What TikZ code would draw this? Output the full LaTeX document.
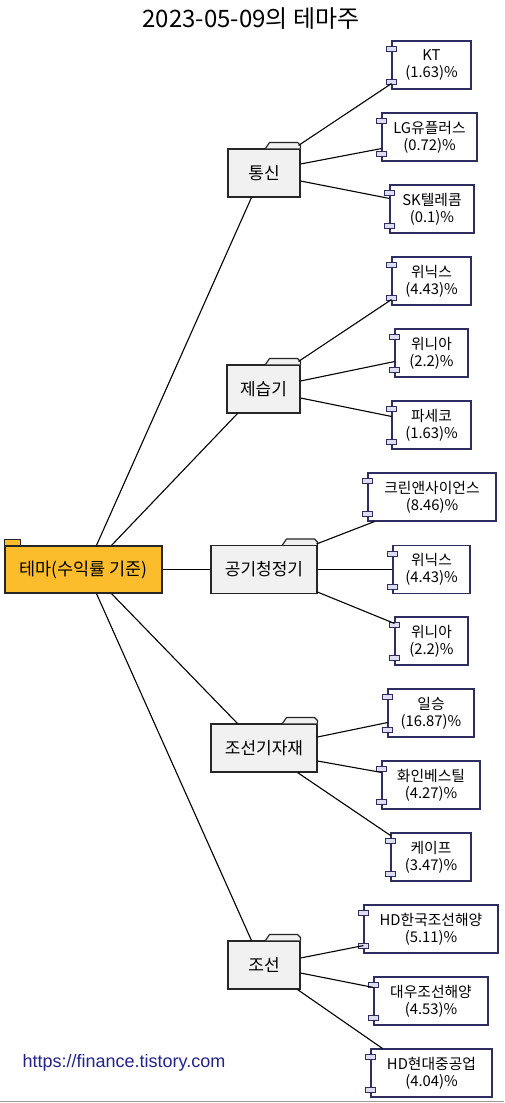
\documentclass[tikz,border=0pt]{standalone}
\usepackage{fontspec}
\setmainfont{Noto Sans CJK KR}
\newfontfamily\urlfont{Liberation Sans}
\usetikzlibrary{calc}
\definecolor{leafline}{RGB}{45,45,95}
\definecolor{portfill}{RGB}{222,222,240}
\definecolor{folderfill}{RGB}{241,241,241}
\definecolor{rootfill}{RGB}{252,189,44}
\definecolor{urlcol}{RGB}{35,35,140}
\newcommand\leafports[1]{%
  \node[port] at ($(#1.north west)+(0,8.5)$) {};
  \node[port] at ($(#1.south west)+(0,-7.5)$) {};}
\newcommand\foldertab[1]{%
  \filldraw[tabline] ($(#1.north east)+(-35,0)$) -- ++(4,-6) -- ($(#1.north east)+(-3,-6)$) -- ($(#1.north east)+(0,-3)$) -- (#1.north east);}
\begin{document}
\begin{tikzpicture}[x=1pt,y=-1pt,
  leaf/.style={rectangle,draw=leafline,fill=white,line width=1.1pt,minimum height=48pt,inner sep=0pt,align=center,font=\fontsize{14.8}{17}\selectfont},
  port/.style={rectangle,draw=leafline,fill=portfill,line width=0.9pt,minimum width=10pt,minimum height=5pt,inner sep=0pt},
  folder/.style={rectangle,draw=black!85,fill=folderfill,line width=1.1pt,minimum height=48pt,inner sep=0pt,font=\fontsize{17}{20}\selectfont},
  tabline/.style={draw=black!85,fill=folderfill,line width=1.2pt,line join=round},
  rootbox/.style={rectangle,draw=black!85,fill=rootfill,line width=1.1pt,minimum width=157pt,minimum height=47pt,inner sep=0pt,font=\fontsize{17.5}{20}\selectfont},
  link/.style={draw=black,line width=1.1pt}]
\useasboundingbox (0,0) rectangle (504,1103);

\node[font=\fontsize{24}{28}\selectfont] (title) at (251,19) {2023-05-09의 테마주};

% root
\node[rootbox] (root) at (83.5,569.5) {테마(수익률 기준)};
\filldraw[draw=black!85,fill=rootfill,line width=1.1pt] (root.north west) rectangle ($(root.north west)+(16,-6)$);

% folders
\node[folder,minimum width=72pt] (tong) at (264,173) {통신};
\node[folder,minimum width=73pt] (jsg) at (263.5,389) {제습기};
\node[folder,minimum width=106pt] (gong) at (264,569.5) {공기청정기};
\node[folder,minimum width=106pt] (jsk) at (264,748) {조선기자재};
\node[folder,minimum width=72pt] (js) at (264,965) {조선};
\foldertab{tong}\foldertab{jsg}\foldertab{gong}\foldertab{jsk}\foldertab{js}

% leaves
\node[leaf,minimum width=79pt] (kt) at (431.5,65) {KT\\(1.63)\%};
\node[leaf,minimum width=95pt] (lg) at (429.5,137) {LG유플러스\\(0.72)\%};
\node[leaf,minimum width=84pt] (sk) at (432,209) {SK텔레콤\\(0.1)\%};
\node[leaf,minimum width=79pt] (wnx) at (431.5,281) {위닉스\\(4.43)\%};
\node[leaf,minimum width=73pt] (wna) at (431.5,353) {위니아\\(2.2)\%};
\node[leaf,minimum width=79pt] (psk) at (431.5,425) {파세코\\(1.63)\%};
\node[leaf,minimum width=128pt] (krin) at (432,497) {크린앤사이언스\\(8.46)\%};
\node[leaf,minimum width=77pt] (wnx2) at (431.5,569.5) {위닉스\\(4.43)\%};
\node[leaf,minimum width=73pt] (wna2) at (431.5,641) {위니아\\(2.2)\%};
\node[leaf,minimum width=86pt] (il) at (431,713) {일승\\(16.87)\%};
\node[leaf,minimum width=98pt] (hwa) at (431,785) {화인베스틸\\(4.27)\%};
\node[leaf,minimum width=80pt] (kape) at (431,857) {케이프\\(3.47)\%};
\node[leaf,minimum width=134pt] (hdk) at (431,929) {HD한국조선해양\\(5.11)\%};
\node[leaf,minimum width=114pt] (dw) at (431,1001) {대우조선해양\\(4.53)\%};
\node[leaf,minimum width=121pt] (hdh) at (431.5,1073) {HD현대중공업\\(4.04)\%};
\foreach \n in {kt,lg,sk,wnx,wna,psk,krin,wnx2,wna2,il,hwa,kape,hdk,dw,hdh}{\leafports{\n}}

% root links
\draw[link] ($(root.north west)+(92,0)$) -- ($(tong.south west)+(24,0)$);
\draw[link] ($(root.north west)+(107,0)$) -- ($(jsg.south west)+(11,0)$);
\draw[link] (root.east) -- (gong.west);
\draw[link] ($(root.south west)+(107,0)$) -- ($(jsk.north west)+(27,0)$);
\draw[link] ($(root.south west)+(92,0)$) -- ($(js.north west)+(24,0)$);

% 통신
\draw[link] ($(tong.north east)+(-2,-3)$) -- ($(kt.south west)+(0,-6)$);
\draw[link] ($(tong.east)+(0,-9)$) -- ($(lg.south west)+(0,-13)$);
\draw[link] ($(tong.east)+(0,8)$) -- ($(sk.north west)+(0,14)$);
% 제습기
\draw[link] ($(jsg.north east)+(-2,-3)$) -- ($(wnx.south west)+(0,-6)$);
\draw[link] ($(jsg.east)+(0,-8)$) -- ($(wna.south west)+(0,-16)$);
\draw[link] ($(jsg.east)+(0,9)$) -- ($(psk.north west)+(0,16)$);
% 공기청정기
\draw[link] ($(gong.north east)+(-1,-1)$) -- ($(krin.south west)+(7,0)$);
\draw[link] (gong.east) -- (wnx2.west);
\draw[link] ($(gong.south east)+(0,-2)$) -- ($(wna2.north west)+(0,7)$);
% 조선기자재
\draw[link] ($(jsk.east)+(0,-11)$) -- ($(il.south west)+(0,-15)$);
\draw[link] ($(jsk.east)+(0,13)$) -- ($(hwa.north west)+(0,12)$);
\draw[link] ($(jsk.south east)+(-20,0)$) -- ($(kape.north west)+(0,3)$);
% 조선
\draw[link] ($(js.east)+(0,-7)$) -- ($(hdk.south west)+(0,-8)$);
\draw[link] ($(js.east)+(0,8)$) -- ($(dw.north west)+(0,11)$);
\draw[link] ($(js.south east)+(-3,0)$) -- ($(hdh.north west)+(12,0)$);

% footer
\node[anchor=west,text=urlcol,font=\urlfont\fontsize{18}{21}\selectfont] (url) at (19,1063) {https://finance.tistory.com};
\draw[black!40,line width=1.5pt] (0,1101.5) -- (504,1101.5);
\end{tikzpicture}
\end{document}
